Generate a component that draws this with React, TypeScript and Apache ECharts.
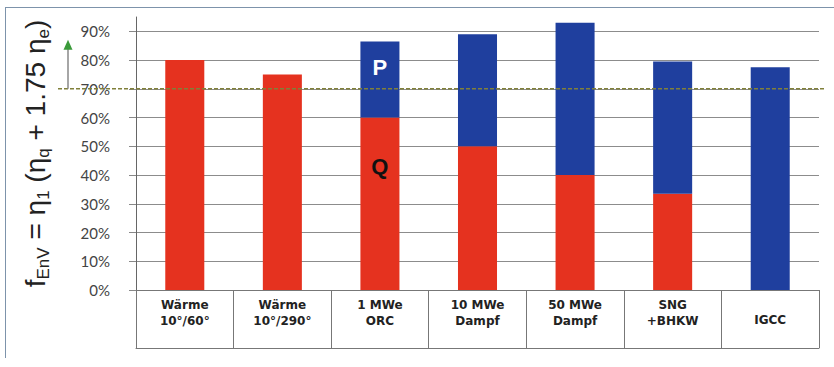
import React, { useEffect, useRef } from "react";
import * as echarts from "echarts";

const categories = [
  "Wärme\n10°/60°",
  "Wärme\n10°/290°",
  "1 MWe\nORC",
  "10 MWe\nDampf",
  "50 MWe\nDampf",
  "SNG\n+BHKW",
  "IGCC",
];
const qValues = [80, 75, 60, 50, 40, 33.5, 0];
const pValues = [0, 0, 26.5, 39, 53, 46, 77.5];
const threshold = 70;
const yTicks = { min: 0, max: 95, interval: 10 };

const RED = "#e5321f";
const BLUE = "#1f3f9e";

export default function App() {
  const ref = useRef<HTMLDivElement>(null);
  useEffect(() => {
    if (!ref.current) return;
    const chart = echarts.init(ref.current, undefined, { renderer: "svg" });
    const option: any = {
      animation: false,
      grid: { left: 136, right: 15, top: 17, bottom: 77 },
      xAxis: [
        {
          type: "category",
          data: categories,
          axisLine: { show: true, lineStyle: { color: "#777", width: 1 } },
          axisTick: { show: true, length: 58, interval: 0, lineStyle: { color: "#777" } },
          axisLabel: {
            interval: 0,
            margin: 7,
            verticalAlign: "top",
            fontFamily: "DejaVu Sans",
            fontWeight: "bold",
            fontSize: 12,
            lineHeight: 16,
            color: "#222",
            formatter: (v: string) =>
              v.indexOf("\n") >= 0 ? v : "{one|" + v + "}",
            rich: {
              one: {
                fontFamily: "DejaVu Sans",
                fontWeight: "bold",
                fontSize: 12,
                lineHeight: 46,
                color: "#222",
              },
            },
          },
        },
        {
          type: "category",
          data: categories,
          position: "bottom",
          offset: 58,
          axisLine: { show: true, lineStyle: { color: "#777", width: 1 } },
          axisTick: { show: false },
          axisLabel: { show: false },
        },
      ],
      yAxis: {
        type: "value",
        min: yTicks.min,
        max: yTicks.max,
        interval: yTicks.interval,
        axisLine: { show: true, lineStyle: { color: "#666" } },
        axisTick: { show: true, length: 7, lineStyle: { color: "#888" } },
        axisLabel: {
          showMaxLabel: false,
          margin: 26,
          fontFamily: "Lato",
          fontSize: 15,
          color: "#444",
          formatter: (v: number) => v + "%",
        },
        splitLine: {
          show: true,
          lineStyle: {
            color: ["#8c8c8c", "#8c8c8c", "#8c8c8c", "#8c8c8c", "#8c8c8c", "#8c8c8c", "#8c8c8c", "#8c8c8c", "#8c8c8c", "#8c8c8c", "rgba(0,0,0,0)"],
          },
        },
        name: "{m|f}{s|EnV}{m| = η}{s|1}{m| (η}{s|q}{m| + 1.75 η}{s|e}{m|)}",
        nameLocation: "middle",
        nameRotate: 90,
        nameGap: 84,
        nameTextStyle: {
          rich: {
            m: { fontFamily: "Liberation Sans", fontSize: 28, lineHeight: 34, color: "#222" },
            s: { fontFamily: "Liberation Sans", fontSize: 17, lineHeight: 14, verticalAlign: "bottom", color: "#222" },
          },
        },
      },
      series: [
        {
          name: "Q",
          type: "bar",
          stack: "f",
          barWidth: "40%",
          itemStyle: { color: RED },
          data: qValues.map((v, i) =>
            i === 2
              ? {
                  value: v,
                  label: {
                    show: true,
                    formatter: "Q",
                    position: "insideTop",
                    distance: 38,
                    fontFamily: "Liberation Sans",
                    fontWeight: "bold",
                    fontSize: 22,
                    color: "#111",
                  },
                }
              : v
          ),
        },
        {
          name: "P",
          type: "bar",
          stack: "f",
          barWidth: "40%",
          itemStyle: { color: BLUE },
          data: pValues.map((v, i) =>
            i === 2
              ? {
                  value: v,
                  label: {
                    show: true,
                    formatter: "P",
                    position: "insideTop",
                    distance: 15,
                    fontFamily: "Liberation Sans",
                    fontWeight: "bold",
                    fontSize: 22,
                    color: "#fff",
                  },
                }
              : v
          ),
        },
      ],
    };
    chart.setOption(option);
    const ty = chart.convertToPixel({ yAxisIndex: 0 }, threshold) as number;
    chart.setOption({
      graphic: [
        {
          type: "line",
          shape: { x1: 58, y1: ty, x2: 825, y2: ty },
          style: { stroke: "#80803a", lineWidth: 1.5, lineDash: [4, 2] },
          z: 100,
        },
        {
          type: "line",
          shape: { x1: 68, y1: ty, x2: 68, y2: ty - 40 },
          style: { stroke: "#888", lineWidth: 1.5 },
          z: 100,
        },
        {
          type: "polygon",
          shape: { points: [[63.5, ty - 39], [72.5, ty - 39], [68, ty - 49]] },
          style: { fill: "#3a9a3a" },
          z: 100,
        },
      ],
    });
    return () => chart.dispose();
  }, []);
  return (
    <div style={{ position: "fixed", left: 0, top: 0, width: 834, height: 367, background: "#fff" }}>
      <div
        style={{
          position: "absolute",
          left: 5,
          top: 7,
          width: 829,
          height: 350,
          borderTop: "1px solid #7d93ab",
          borderLeft: "1px solid #7d93ab",
        }}
      />
      <div ref={ref} style={{ position: "absolute", left: 0, top: 0, width: 834, height: 367 }} />
    </div>
  );
}
